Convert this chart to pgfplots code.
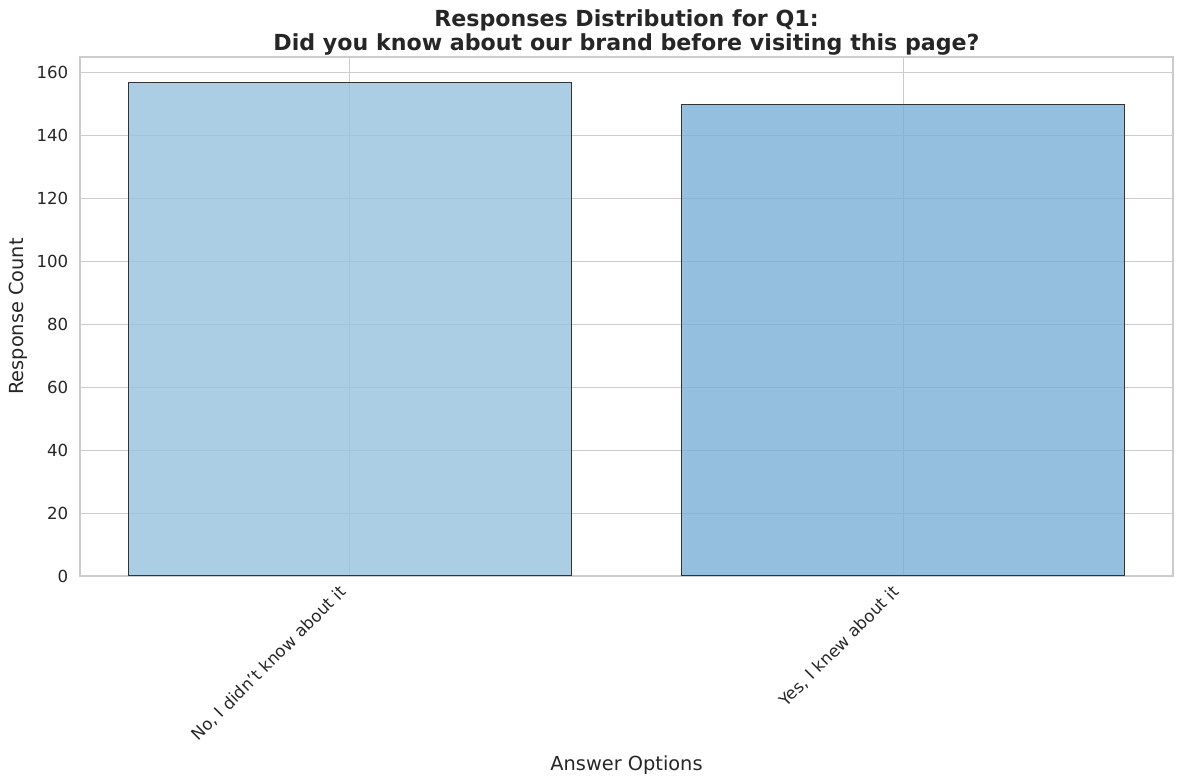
\documentclass[border=0pt]{standalone}
\usepackage{fontspec}
\setmainfont{DejaVu Sans}
\usepackage{pgfplots}
\pgfplotsset{compat=1.18}
\definecolor{txt}{HTML}{262626}
\definecolor{gridc}{HTML}{CCCCCC}
\definecolor{barA}{HTML}{97C2DD}
\definecolor{barB}{HTML}{7AAFD7}
\definecolor{edge}{HTML}{333333}

\begin{document}
\begin{tikzpicture}
\begin{axis}[
  at={(0.80in,2.08in)}, anchor=south west,
  scale only axis, width=10.93in, height=5.19in,
  xmin=-0.488, xmax=1.488, ymin=0, ymax=165,
  xtick={0,1}, xticklabels={{No, I didn{\char39}t know about it},{Yes, I knew about it}},
  ytick={0,20,...,160},
  grid=major, major grid style={gridc, line width=0.8pt},
  axis line style={gridc, line width=1.25pt},
  major tick length=0pt,
  tick label style={font=\fontsize{12}{14}\selectfont, text=txt},
  yticklabel style={xshift=-5pt},
  xticklabel style={xshift=-8.6pt, yshift=-1pt, rotate=45, anchor=north east},
  /pgf/number format/assume math mode=true,
  label style={font=\fontsize{14}{17}\selectfont, text=txt},
  xlabel={Answer Options}, ylabel={Response Count},
  xlabel style={at={(axis description cs:0.5,-0.364)}, anchor=center},
  ylabel style={at={(axis description cs:-0.0567,0.5)}, anchor=center},
  title={Responses Distribution for Q1:\\Did you know about our brand before visiting this page?},
  title style={font=\fontsize{16}{17.3}\selectfont\bfseries, text=txt, align=center, anchor=south, yshift=-8.5pt},
  ybar, bar width=0.8, bar shift=0pt,
]
\addplot[fill=barA, fill opacity=0.8, draw=edge, line width=0.9pt] coordinates {(0,157)};
\addplot[fill=barB, fill opacity=0.8, draw=edge, line width=0.9pt] coordinates {(1,150)};
\end{axis}
\pgfresetboundingbox
\useasboundingbox (0,0) rectangle (11.84in,7.84in);
\end{tikzpicture}
\end{document}
